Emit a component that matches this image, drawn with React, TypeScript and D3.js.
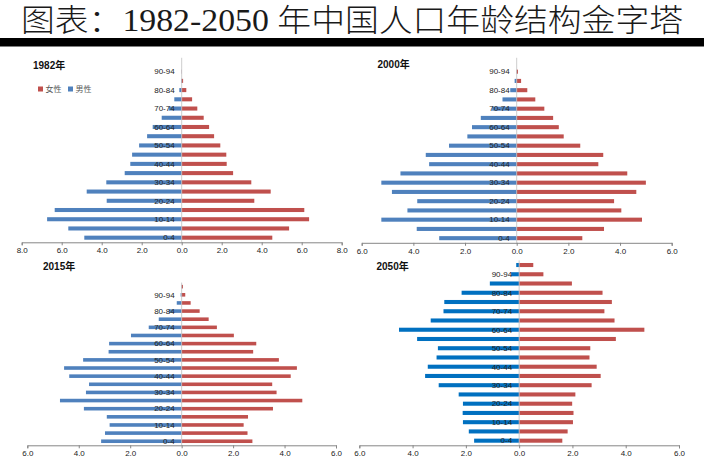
import { useEffect, useRef } from 'react';
import * as d3 from 'd3';

// age groups, bottom to top
const ageGroups = [
	'0-4', '5-9', '10-14', '15-19', '20-24', '25-29', '30-34', '35-39', '40-44', '45-49',
	'50-54', '55-59', '60-64', '65-69', '70-74', '75-79', '80-84', '85-89', '90-94', '95+',
];

// share of total population (%)
const male1982 = [4.87, 5.67, 6.73, 6.35, 3.75, 4.75, 3.77, 2.85, 2.57, 2.48, 2.13, 1.73, 1.45, 1.0, 0.65, 0.37, 0.12, 0.03, 0.01, 0];
const female1982 = [4.53, 5.37, 6.37, 6.13, 3.63, 4.45, 3.48, 2.57, 2.25, 2.23, 1.93, 1.62, 1.37, 1.1, 0.78, 0.52, 0.23, 0.07, 0.01, 0];

const male2000 = [3.0, 3.87, 5.24, 4.23, 3.85, 4.83, 5.24, 4.5, 3.39, 3.52, 2.62, 1.91, 1.73, 1.39, 0.95, 0.55, 0.25, 0.08, 0.01, 0];
const female2000 = [2.54, 3.38, 4.85, 4.05, 3.77, 4.63, 5.0, 4.28, 3.16, 3.35, 2.46, 1.82, 1.63, 1.41, 1.07, 0.72, 0.41, 0.17, 0.05, 0];

const male2015 = [3.13, 2.98, 2.8, 2.91, 3.8, 4.73, 3.72, 3.6, 4.37, 4.57, 3.83, 2.84, 2.82, 1.97, 1.28, 0.89, 0.5, 0.19, 0.04, 0.01];
const female2015 = [2.75, 2.56, 2.41, 2.58, 3.55, 4.69, 3.69, 3.52, 4.24, 4.48, 3.78, 2.78, 2.9, 2.03, 1.37, 1.05, 0.7, 0.35, 0.14, 0.05];

const male2050 = [1.69, 1.89, 2.11, 2.12, 2.11, 2.27, 3.02, 3.53, 3.43, 3.1, 3.05, 3.83, 4.51, 3.32, 2.84, 2.81, 2.16, 1.1, 0.3, 0.11];
const female2050 = [1.62, 1.82, 2.02, 2.04, 1.99, 2.11, 2.72, 3.06, 2.91, 2.64, 2.67, 3.63, 4.7, 3.58, 3.2, 3.48, 3.13, 1.98, 0.91, 0.53];

const legendLabels = ['女性', '男性'];

const FEMALE = '#C0504D';
const MALE = '#4F81BD';

type PanelProps = {
	title: string;
	male: number[];
	female: number[];
	maxV: number;
	x0: number;
	x1: number;
	yBottom: number;
	yTop: number;
	titleX: number;
	titleY: number;
	maleColor?: string;
	legend?: boolean;
};

function Pyramid({ title, male, female, maxV, x0, x1, yBottom, yTop, titleX, titleY, maleColor = MALE, legend }: PanelProps) {
	const ref = useRef<SVGGElement | null>(null);

	useEffect(() => {
		if (!ref.current) return;
		const g = d3.select(ref.current);
		g.selectAll('*').remove();

		const x = d3.scaleLinear().domain([-maxV, maxV]).range([x0, x1]);
		const y = d3
			.scaleBand<string>()
			.domain(ageGroups)
			.range([yBottom, yTop])
			.paddingInner(0.56)
			.paddingOuter(0.28);
		const barH = y.bandwidth();

		// bars
		g.append('g')
			.selectAll('rect')
			.data(ageGroups)
			.join('rect')
			.attr('x', (d, i) => x(-male[i]))
			.attr('y', (d) => y(d)!)
			.attr('width', (d, i) => x(0) - x(-male[i]))
			.attr('height', barH)
			.attr('fill', maleColor);

		g.append('g')
			.selectAll('rect')
			.data(ageGroups)
			.join('rect')
			.attr('x', x(0))
			.attr('y', (d) => y(d)!)
			.attr('width', (d, i) => x(female[i]) - x(0))
			.attr('height', barH)
			.attr('fill', FEMALE);

		// center line
		g.append('line')
			.attr('x1', x(0))
			.attr('x2', x(0))
			.attr('y1', yTop)
			.attr('y2', yBottom)
			.attr('stroke', '#BFBFBF')
			.attr('stroke-width', 0.8);

		// x axis
		const axis = g
			.append('g')
			.attr('transform', `translate(0,${yBottom})`)
			.call(
				d3
					.axisBottom(x)
					.tickValues(d3.range(-maxV, maxV + 0.1, 2))
					.tickFormat((d) => Math.abs(+d).toFixed(1))
					.tickSizeOuter(0)
					.tickSize(3)
			);
		axis.select('.domain').attr('stroke', '#868686');
		axis.selectAll('line').attr('stroke', '#868686');
		axis.selectAll('text')
			.attr('font-size', 8)
			.attr('font-family', '"Liberation Sans", Arial, sans-serif')
			.attr('fill', '#222')
			.attr('dy', '0.6em');

		// age labels, every other one
		g.append('g')
			.selectAll('text')
			.data(ageGroups.filter((d, i) => i % 2 === 0))
			.join('text')
			.attr('x', x(0) - 7)
			.attr('y', (d) => y(d)! + barH / 2)
			.attr('dy', '0.35em')
			.attr('text-anchor', 'end')
			.attr('font-size', 8)
			.attr('font-family', '"Liberation Sans", Arial, sans-serif')
			.attr('fill', '#222')
			.text((d) => d);

		// title
		g.append('text')
			.attr('x', titleX)
			.attr('y', titleY)
			.attr('font-size', 10)
			.attr('font-weight', 'bold')
			.attr('font-family', '"Liberation Sans", "Noto Sans CJK SC", sans-serif')
			.attr('fill', '#111')
			.text(title);

		if (legend) {
			const lg = g.append('g').attr('transform', `translate(${titleX + 5},86.5)`);
			const colors = [FEMALE, maleColor];
			legendLabels.forEach((lab, i) => {
				lg.append('rect').attr('x', i * 30).attr('y', 0).attr('width', 5).attr('height', 5).attr('fill', colors[i]);
				lg.append('text')
					.attr('x', i * 30 + 7.5)
					.attr('y', 5)
					.attr('font-size', 8)
					.attr('font-family', '"Noto Sans CJK SC", sans-serif')
					.attr('fill', '#595959')
					.text(lab);
			});
		}
	}, [title, male, female, maxV, x0, x1, yBottom, yTop, titleX, titleY, maleColor, legend]);

	return <g ref={ref} />;
}

export default function App() {
	useEffect(() => {
		document.body.style.margin = '0';
	}, []);

	return (
		<svg width={704} height={465} style={{ display: 'block', background: '#fff' }}>
			<text
				x={352}
				y={31}
				textAnchor="middle"
				fontSize={31}
				fontWeight={300}
				fontFamily={'"Liberation Serif", "Noto Sans CJK SC", serif'}
				fill="#1a1a1a"
				textLength={662}
				lengthAdjust="spacingAndGlyphs"
			>
				图表：1982-2050 年中国人口年龄结构金字塔
			</text>
			<rect x={0} y={38} width={704} height={8.5} fill="#000" />

			<Pyramid title="1982年" male={male1982} female={female1982} maxV={8} x0={21.7} x1={341.7} yBottom={242.3} yTop={57.8} titleX={33} titleY={69} legend />
			<Pyramid title="2000年" male={male2000} female={female2000} maxV={6} x0={361.7} x1={671.7} yBottom={242.8} yTop={57.8} titleX={377.5} titleY={68} />
			<Pyramid title="2015年" male={male2015} female={female2015} maxV={6} x0={27.3} x1={336} yBottom={445.3} yTop={282.6} titleX={43} titleY={270} />
			<Pyramid title="2050年" male={male2050} female={female2050} maxV={6} x0={359.3} x1={679} yBottom={445.3} yTop={260.4} titleX={376.5} titleY={270} maleColor="#0070C0" />
		</svg>
	);
}
